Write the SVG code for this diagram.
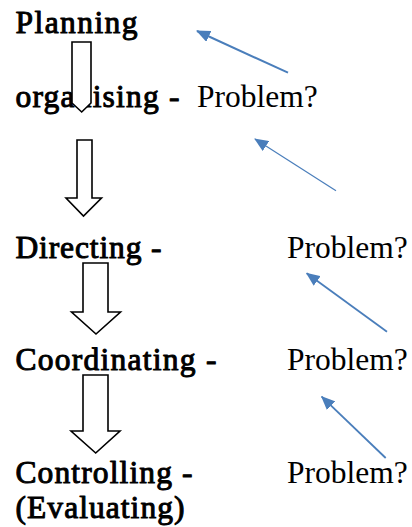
<svg xmlns="http://www.w3.org/2000/svg" width="412" height="527" viewBox="0 0 412 527">
<style>
.t{font-family:"Liberation Serif","Times New Roman",serif;font-size:31.5px;fill:#000}
.b{stroke:#000;stroke-width:1;stroke-linejoin:round}
.blk{fill:#fff;stroke:#000;stroke-width:1.6;stroke-linejoin:miter}
.con{stroke:#4a7ebb;fill:none}
</style>
<defs>
<marker id="ah" markerUnits="userSpaceOnUse" markerWidth="14" markerHeight="12" refX="13" refY="6" orient="auto">
<path d="M0,0 L14,6 L0,12 z" fill="#4a7ebb"/>
</marker>
</defs>
<rect width="412" height="527" fill="#fff"/>
<g id="planning"><text class="t b" x="15.5" y="33" textLength="122" lengthAdjust="spacing">Planning</text></g>
<g id="organising"><text class="t b" x="15.5" y="107" textLength="164" lengthAdjust="spacing">organising -</text><text class="t" x="197" y="107">Problem?</text></g>
<g id="directing"><text class="t b" x="15.5" y="258" textLength="146" lengthAdjust="spacing">Directing -</text><text class="t" x="287" y="258">Problem?</text></g>
<g id="coordinating"><text class="t b" x="15.5" y="370" textLength="201" lengthAdjust="spacing">Coordinating -</text><text class="t" x="287" y="370">Problem?</text></g>
<g id="controlling"><text class="t b" x="15.5" y="483" textLength="177" lengthAdjust="spacing">Controlling -</text><text class="t b" x="15.5" y="518" textLength="169" lengthAdjust="spacing">(Evaluating)</text><text class="t" x="287" y="483">Problem?</text></g>
<g id="flow">
<polygon class="blk" points="72,42 91,42 91,103 81.7,112 72,103"/>
<polygon class="blk" points="77,140 92,140 92,198 101.5,198 83.5,216 66,198 77,198"/>
<polygon class="blk" points="83,263 108,263 108,312 120.5,312 96,334 71.5,312 83,312"/>
<polygon class="blk" points="83,375 108,375 108,431 120,431 95.7,453 71,431 83,431"/>
</g>
<g id="connectors">
<line class="con" x1="288" y1="72.7" x2="197" y2="31" stroke-width="2" marker-end="url(#ah)"/>
<line class="con" x1="336" y1="190.7" x2="255" y2="139" stroke-width="1.2" marker-end="url(#ah)"/>
<line class="con" x1="387" y1="331.7" x2="306.7" y2="273.3" stroke-width="1.8" marker-end="url(#ah)"/>
<line class="con" x1="385.7" y1="458" x2="321.7" y2="396.7" stroke-width="1.8" marker-end="url(#ah)"/>
</g>
</svg>
